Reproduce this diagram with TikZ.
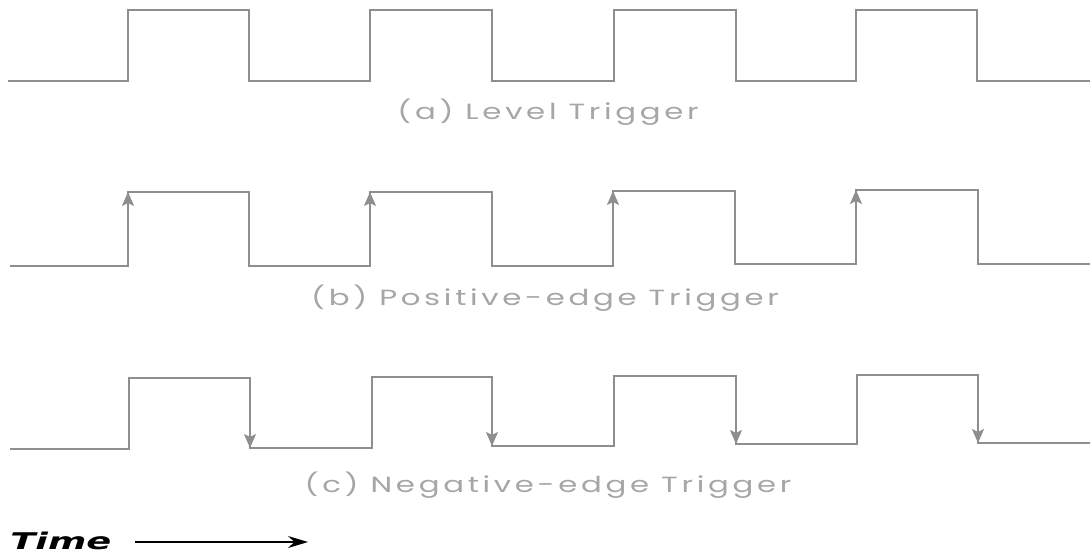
\documentclass[tikz,border=0pt]{standalone}
\usepackage{fontspec}
\setsansfont{Poppins}
\newfontfamily\timefont{DejaVu Sans}
\usepackage{xcolor}
\definecolor{trgline}{HTML}{8E8E8E}
\definecolor{trgtext}{HTML}{A6A6A6}
\usetikzlibrary{arrows.meta,positioning}
\tikzset{
  trgwave/.style={draw=trgline,line width=1.5pt,line join=miter},
  trgedge/.style={draw=trgline,line width=1.5pt,-{Stealth[length=14pt,width=12pt,inset=3pt]}},
  trglabel/.style={text=trgtext,font=\sffamily\fontsize{22}{26}\selectfont\addfontfeature{LetterSpace=12},inner sep=0pt,xscale=1.4},
}

\begin{document}
\begin{tikzpicture}[x=1pt,y=-1pt]
\useasboundingbox (0,0) rectangle (1090,557);
% (a) level trigger
\draw[trgwave] (8,81) -- (128,81) -- (128,10) -- (249,10) -- (249,81) -- (370,81) -- (370,10) -- (492,10) -- (492,81)
  -- (614,81) -- (614,10) -- (736,10) -- (736,81) -- (856,81) -- (856,10) -- (977,10) -- (977,81) -- (1090,81);
\node[trglabel] (lvl) at (548,112) {(a) Level Trigger};
% (b) positive edge
\draw[trgwave] (10,266) -- (128,266) -- (128,192) -- (249,192) -- (249,266) -- (370,266) -- (370,192) -- (492,192) -- (492,266)
  -- (613,266) -- (613,191) -- (735,191) -- (735,264) -- (856,264) -- (856,190) -- (978,190) -- (978,264) -- (1090,264);
\draw[trgedge] (128,240) -- (128,192);
\draw[trgedge] (370,240) -- (370,192);
\draw[trgedge] (613,240) -- (613,191);
\draw[trgedge] (856,240) -- (856,190);
\node[trglabel] (pos) at (545,298) {(b) Positive-edge Trigger};
% (c) negative edge
\draw[trgwave] (10,449) -- (129,449) -- (129,378) -- (250,378) -- (250,448) -- (372,448) -- (372,377) -- (492,377) -- (492,446)
  -- (614,446) -- (614,376) -- (736,376) -- (736,444) -- (857,444) -- (857,375) -- (978,375) -- (978,443) -- (1090,443);
\draw[trgedge] (250,400) -- (250,448);
\draw[trgedge] (492,400) -- (492,446);
\draw[trgedge] (736,400) -- (736,444);
\draw[trgedge] (978,400) -- (978,443);
\node[trglabel] (neg) at (548,485) {(c) Negative-edge Trigger};
% time axis
\node[anchor=base west,inner sep=0pt,xscale=1.6,font=\timefont\bfseries\itshape\fontsize{23}{28}\selectfont] (time) at (10,549) {Time};
\coordinate (tend) at (308,542);
\draw[line width=1.4pt,-{Stealth[length=20pt,width=12pt]}] (135,542) -- (tend);
\end{tikzpicture}
\end{document}
